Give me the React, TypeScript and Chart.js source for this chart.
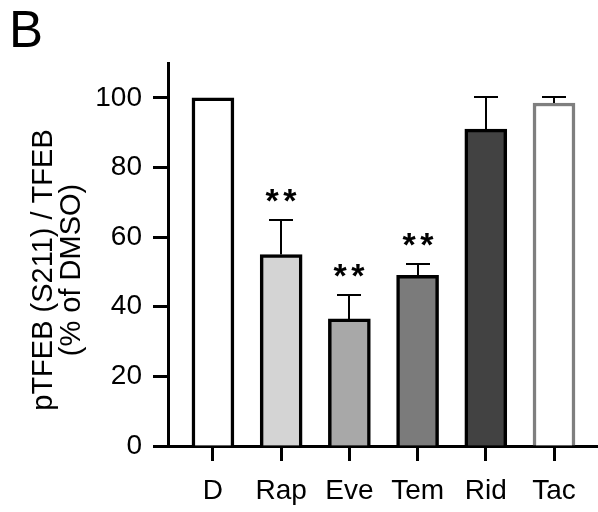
import React, { useEffect, useRef } from "react";
import { Chart, registerables } from "chart.js";

Chart.register(...registerables);

// ---- data ----
const categories = ["D", "Rap", "Eve", "Tem", "Rid", "Tac"];
const means = [100, 55, 36.5, 49, 91, 98.5];
const sems = [0, 9.8, 7, 3.2, 9.2, 1.7];
const significance = ["", "**", "**", "**", "", ""];
const fillColors = ["#ffffff", "#d4d4d4", "#a8a8a8", "#7b7b7b", "#424242", "#ffffff"];
const edgeColors = ["#000000", "#000000", "#000000", "#000000", "#000000", "#7f7f7f"];
const yTickValues = [0, 20, 40, 60, 80, 100];
const yTitleLines = ["pTFEB (S211) / TFEB", "(% of DMSO)"];
const panelLabel = "B";

const FONT = "'Liberation Sans', Arial, Helvetica, sans-serif";
const STAR_SIZE = 34;

const overlayPlugin = {
  id: "overlay",
  afterDatasetsDraw(chart: any) {
    const { ctx } = chart;
    const x = chart.scales.x;
    const y = chart.scales.y;
    ctx.save();
    ctx.strokeStyle = "#000";
    ctx.fillStyle = "#000";
    ctx.lineWidth = 2;
    means.forEach((m, i) => {
      const err = sems[i];
      const cx = Math.round(x.getPixelForValue(i));
      const yb = y.getPixelForValue(m);
      const yt = Math.round(y.getPixelForValue(m + err));
      if (err > 0) {
        ctx.beginPath();
        ctx.moveTo(cx, yb);
        ctx.lineTo(cx, yt);
        ctx.moveTo(cx - 12, yt);
        ctx.lineTo(cx + 12, yt);
        ctx.stroke();
      }
      const sig = significance[i];
      if (sig) {
        ctx.font = `bold ${STAR_SIZE}px ${FONT}`;
        ctx.textAlign = "center";
        ctx.textBaseline = "alphabetic";
        const n = sig.length;
        for (let k = 0; k < n; k++) {
          const off = (k - (n - 1) / 2) * 17.7;
          ctx.fillText(sig[k], cx + off, yt - 27 + 0.57 * STAR_SIZE);
        }
      }
    });
    ctx.restore();
  },
  afterDraw(chart: any) {
    const { ctx } = chart;
    ctx.save();
    ctx.fillStyle = "#000";
    // panel label
    ctx.font = `51px ${FONT}`;
    ctx.textAlign = "left";
    ctx.textBaseline = "alphabetic";
    ctx.fillText(panelLabel, 9, 46.7);
    // y title
    ctx.font = `29px ${FONT}`;
    ctx.textAlign = "center";
    yTitleLines.forEach((line, i) => {
      ctx.save();
      ctx.translate(51.7 + i * 28.3, 270);
      ctx.rotate(-Math.PI / 2);
      ctx.fillText(line, 0, 0);
      ctx.restore();
    });
    ctx.restore();
  },
};

export default function App() {
  const canvasRef = useRef<HTMLCanvasElement | null>(null);

  useEffect(() => {
    const canvas = canvasRef.current;
    if (!canvas) return;
    const chart = new Chart(canvas, {
      type: "bar",
      data: {
        datasets: [
          {
            data: means.map((m, i) => ({ x: i, y: m })),
            backgroundColor: fillColors,
            borderColor: edgeColors,
            borderWidth: 3.5,
            barThickness: 42,
          } as any,
        ],
      },
      options: {
        animation: false,
        responsive: false,
        maintainAspectRatio: false,
        layout: { padding: { top: 63, left: 0, right: 0, bottom: 0 } },
        plugins: {
          legend: { display: false },
          tooltip: { enabled: false },
          title: { display: false },
        },
        scales: {
          x: {
            type: "linear",
            min: -0.659,
            max: 5.645,
            offset: false,
            afterBuildTicks: (scale: any) => {
              scale.ticks = categories.map((_, i) => ({ value: i }));
            },
            afterFit: (scale: any) => {
              scale.height = 66;
            },
            border: { display: true, width: 3, color: "#000" },
            grid: {
              offset: false,
              drawOnChartArea: false,
              drawTicks: true,
              tickLength: 15,
              tickWidth: 3,
              tickColor: "#000",
            },
            ticks: {
              autoSkip: false,
              maxRotation: 0,
              padding: 13,
              color: "#000",
              font: { family: FONT, size: 28 },
              callback: (v: any) => categories[Math.round(Number(v))] ?? "",
            },
          },
          y: {
            type: "linear",
            min: 0,
            max: 110,
            afterBuildTicks: (scale: any) => {
              scale.ticks = yTickValues.map((v) => ({ value: v }));
            },
            afterFit: (scale: any) => {
              scale.width = 168;
            },
            border: { display: true, width: 3, color: "#000" },
            grid: {
              drawOnChartArea: false,
              drawTicks: true,
              tickLength: 15,
              tickWidth: 3,
              tickColor: "#000",
            },
            ticks: {
              padding: 11,
              color: "#000",
              font: { family: FONT, size: 28 },
            },
          },
        },
      } as any,
      plugins: [overlayPlugin],
    });
    return () => chart.destroy();
  }, []);

  return (
    <div style={{ position: "absolute", left: 0, top: 0, width: 598, height: 512, background: "#fff" }}>
      <canvas ref={canvasRef} width={598} height={512} style={{ display: "block" }} />
    </div>
  );
}
